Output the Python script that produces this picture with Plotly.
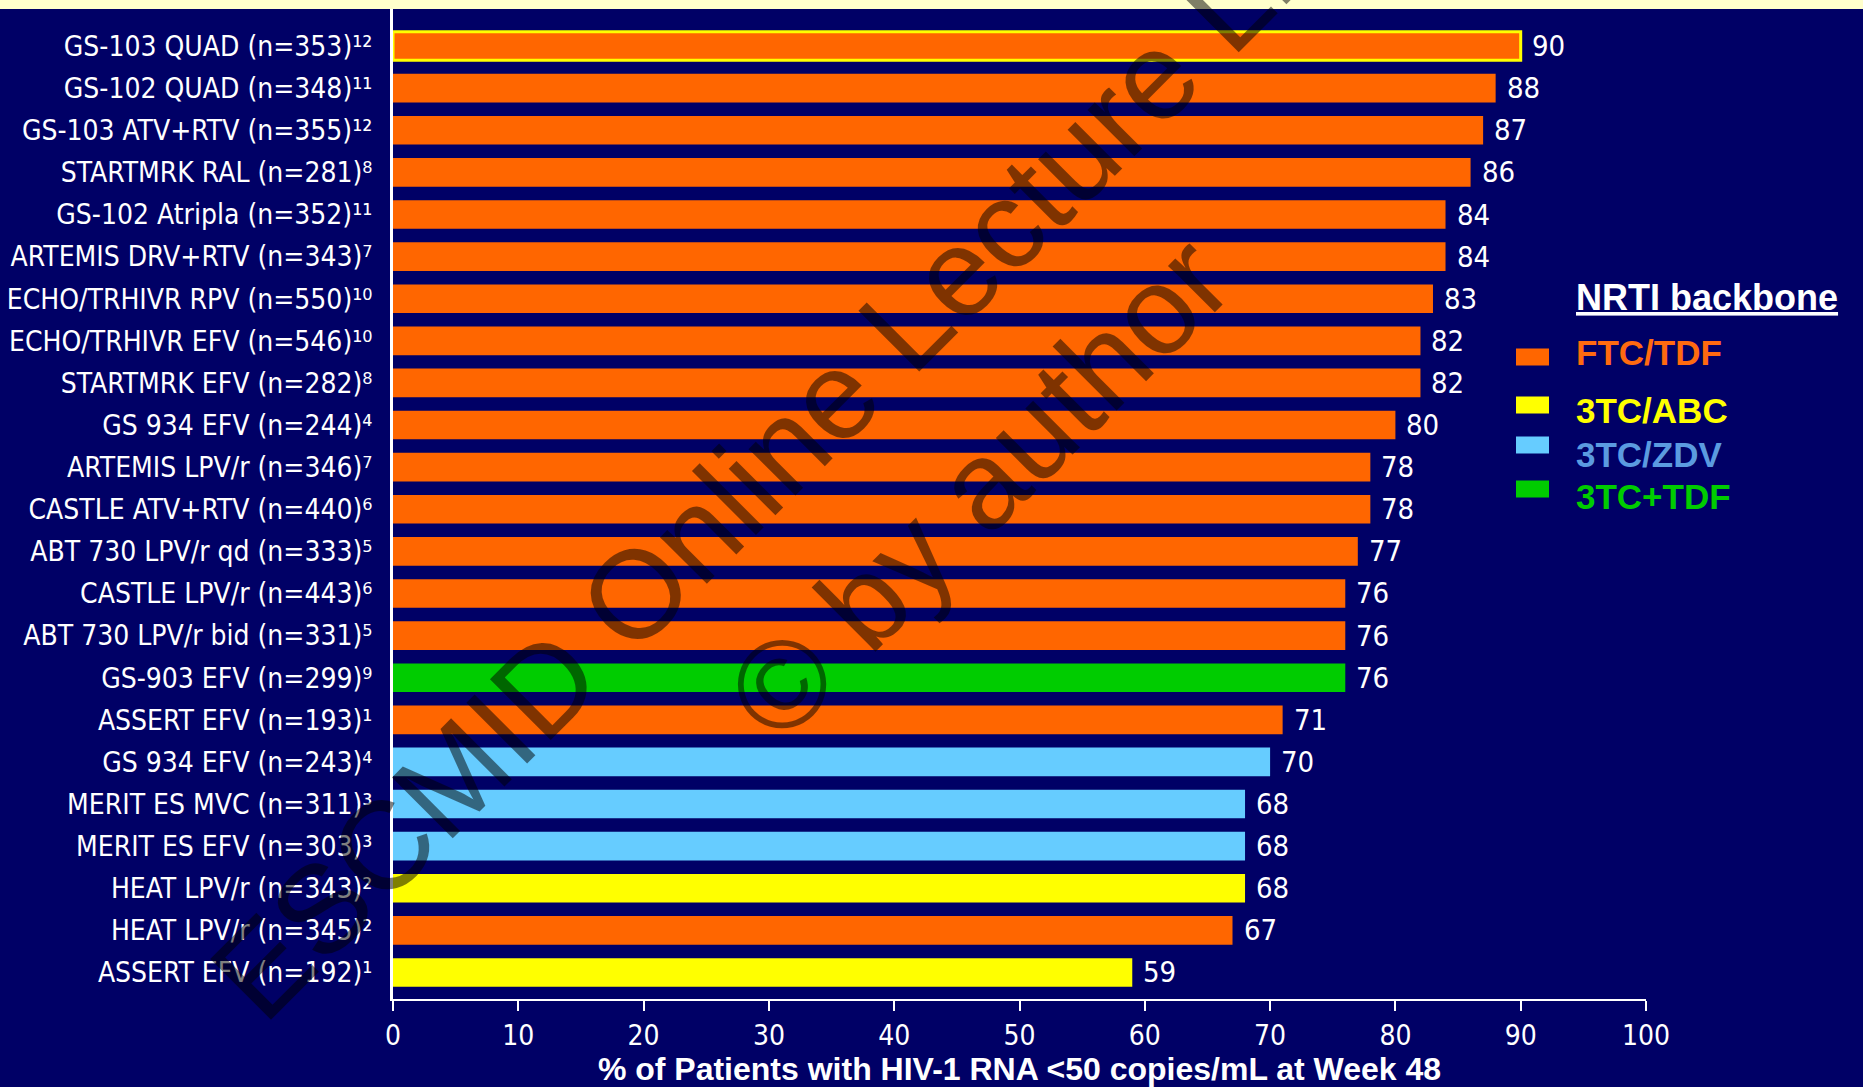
import plotly.graph_objects as go

# Study arms (top to bottom), reference numbers shown as superscripts
studies = [
    "GS-103 QUAD (n=353)", "GS-102 QUAD (n=348)", "GS-103 ATV+RTV (n=355)",
    "STARTMRK RAL (n=281)", "GS-102 Atripla (n=352)", "ARTEMIS DRV+RTV (n=343)",
    "ECHO/TRHIVR RPV (n=550)", "ECHO/TRHIVR EFV (n=546)", "STARTMRK EFV (n=282)",
    "GS 934 EFV (n=244)", "ARTEMIS LPV/r (n=346)", "CASTLE ATV+RTV (n=440)",
    "ABT 730 LPV/r qd (n=333)", "CASTLE LPV/r (n=443)", "ABT 730 LPV/r bid (n=331)",
    "GS-903 EFV (n=299)", "ASSERT EFV (n=193)", "GS 934 EFV (n=243)",
    "MERIT ES MVC (n=311)", "MERIT ES EFV (n=303)", "HEAT LPV/r (n=343)",
    "HEAT LPV/r (n=345)", "ASSERT EFV (n=192)",
]
refs = ["12", "11", "12", "8", "11", "7", "10", "10", "8", "4", "7", "6",
        "5", "6", "5", "9", "1", "4", "3", "3", "2", "2", "1"]
pct_suppressed = [90, 88, 87, 86, 84, 84, 83, 82, 82, 80, 78, 78,
                  77, 76, 76, 76, 71, 70, 68, 68, 68, 67, 59]
backbone = ["FTC/TDF"] * 15 + ["3TC+TDF", "FTC/TDF", "3TC/ZDV", "3TC/ZDV",
                               "3TC/ZDV", "3TC/ABC", "FTC/TDF", "3TC/ABC"]

backbone_names = ["FTC/TDF", "3TC/ABC", "3TC/ZDV", "3TC+TDF"]
bar_colors = {"FTC/TDF": "#FF6600", "3TC/ABC": "#FFFF00",
              "3TC/ZDV": "#66CCFF", "3TC+TDF": "#00CC00"}
text_colors = {"FTC/TDF": "#FF6A10", "3TC/ABC": "#FFFF00",
               "3TC/ZDV": "#5B9BE0", "3TC+TDF": "#00CC00"}
x_ticks = list(range(0, 101, 10))

NAVY = "#000066"
NARROW = "DejaVu Sans Condensed, Liberation Sans Narrow, Arial Narrow, sans-serif"
SANS = "Liberation Sans, Arial, sans-serif"
W, H = 1863, 1087
L, R, T, B = 393, 217, 9, 88
PW, PH = W - L - R, H - T - B

SUPERSCRIPT = str.maketrans("0123456789", "⁰¹²³⁴⁵⁶⁷⁸⁹")


def px_x(px):
    return (px - L) / PW


def px_y(py):
    return (H - B - py) / PH


labels = [f"{s}{r.translate(SUPERSCRIPT)}" for s, r in zip(studies, refs)]
colors = [bar_colors[b] for b in backbone]
line_w = [3 if i == 0 else 0 for i in range(len(studies))]
line_c = ["#FFFF00" if i == 0 else NAVY for i in range(len(studies))]

fig = go.Figure()
fig.add_trace(go.Bar(
    x=pct_suppressed, y=labels, orientation="h",
    width=0.68,
    marker=dict(color=colors, line=dict(width=line_w, color=line_c)),
    hoverinfo="skip", showlegend=False,
))

annotations = []
# value labels at the end of each bar
for lab, v in zip(labels, pct_suppressed):
    annotations.append(dict(
        x=v, y=lab, xref="x", yref="y", text=str(v), showarrow=False,
        xanchor="left", yanchor="middle", xshift=9,
        font=dict(family=NARROW, size=29, color="white"),
    ))

# legend drawn by hand so each entry keeps its own text colour
annotations.append(dict(
    x=px_x(1574), y=px_y(297), xref="paper", yref="paper",
    text="<u>NRTI backbone</u>", showarrow=False, xanchor="left", yanchor="middle",
    font=dict(family=SANS, size=36, color="white", weight="bold"),
))
legend_text_y = [352, 410, 454, 497]
legend_box_y = [357, 405, 445, 489]
shapes = []
for name, ty, by in zip(backbone_names, legend_text_y, legend_box_y):
    annotations.append(dict(
        x=px_x(1574), y=px_y(ty), xref="paper", yref="paper",
        text=name, showarrow=False, xanchor="left", yanchor="middle",
        font=dict(family=SANS, size=35, color=text_colors[name], weight="bold"),
    ))
    shapes.append(dict(
        type="rect", xref="paper", yref="paper",
        x0=px_x(1516), x1=px_x(1549), y0=px_y(by + 8.5), y1=px_y(by - 8.5),
        fillcolor=bar_colors[name], line=dict(width=0),
    ))

# pale strip along the top edge
shapes.append(dict(
    type="rect", xref="paper", yref="paper", layer="above",
    x0=px_x(0), x1=px_x(W), y0=px_y(9), y1=px_y(0),
    fillcolor="#FFFFCC", line=dict(width=0),
))

# diagonal watermark
wm_font = dict(family=SANS, size=125, color="rgba(0,0,0,0.5)")
annotations.append(dict(
    x=px_x(852), y=px_y(378), xref="paper", yref="paper",
    text="ESCMID Online Lecture Library", showarrow=False, textangle=-45,
    xanchor="center", yanchor="middle", font=wm_font,
))
annotations.append(dict(
    x=px_x(978), y=px_y(487), xref="paper", yref="paper",
    text="© by author", showarrow=False, textangle=-45,
    xanchor="center", yanchor="middle", font=wm_font,
))

fig.update_layout(
    width=W, height=H,
    margin=dict(l=L, r=R, t=T, b=B, pad=0),
    paper_bgcolor=NAVY, plot_bgcolor=NAVY,
    annotations=annotations, shapes=shapes,
    xaxis=dict(
        range=[0, 100], tickvals=x_ticks, ticktext=[str(t) for t in x_ticks],
        automargin=False,
        showgrid=False, zeroline=False,
        showline=True, linecolor="white", linewidth=2,
        ticks="outside", ticklen=10, tickwidth=2, tickcolor="white",
        tickfont=dict(family=NARROW, size=28, color="white"),
        title=dict(text="% of Patients with HIV-1 RNA <50 copies/mL at Week 48",
                   standoff=4,
                   font=dict(family=SANS, size=32, color="white", weight="bold")),
    ),
    yaxis=dict(
        type="category", range=[22.63, -0.88],
        automargin=False,
        showgrid=False, zeroline=False,
        showline=True, linecolor="white", linewidth=3,
        ticks="", ticklabelstandoff=12,
        tickfont=dict(family=NARROW, size=28, color="white"),
    ),
)

fig.write_html("out.html")
